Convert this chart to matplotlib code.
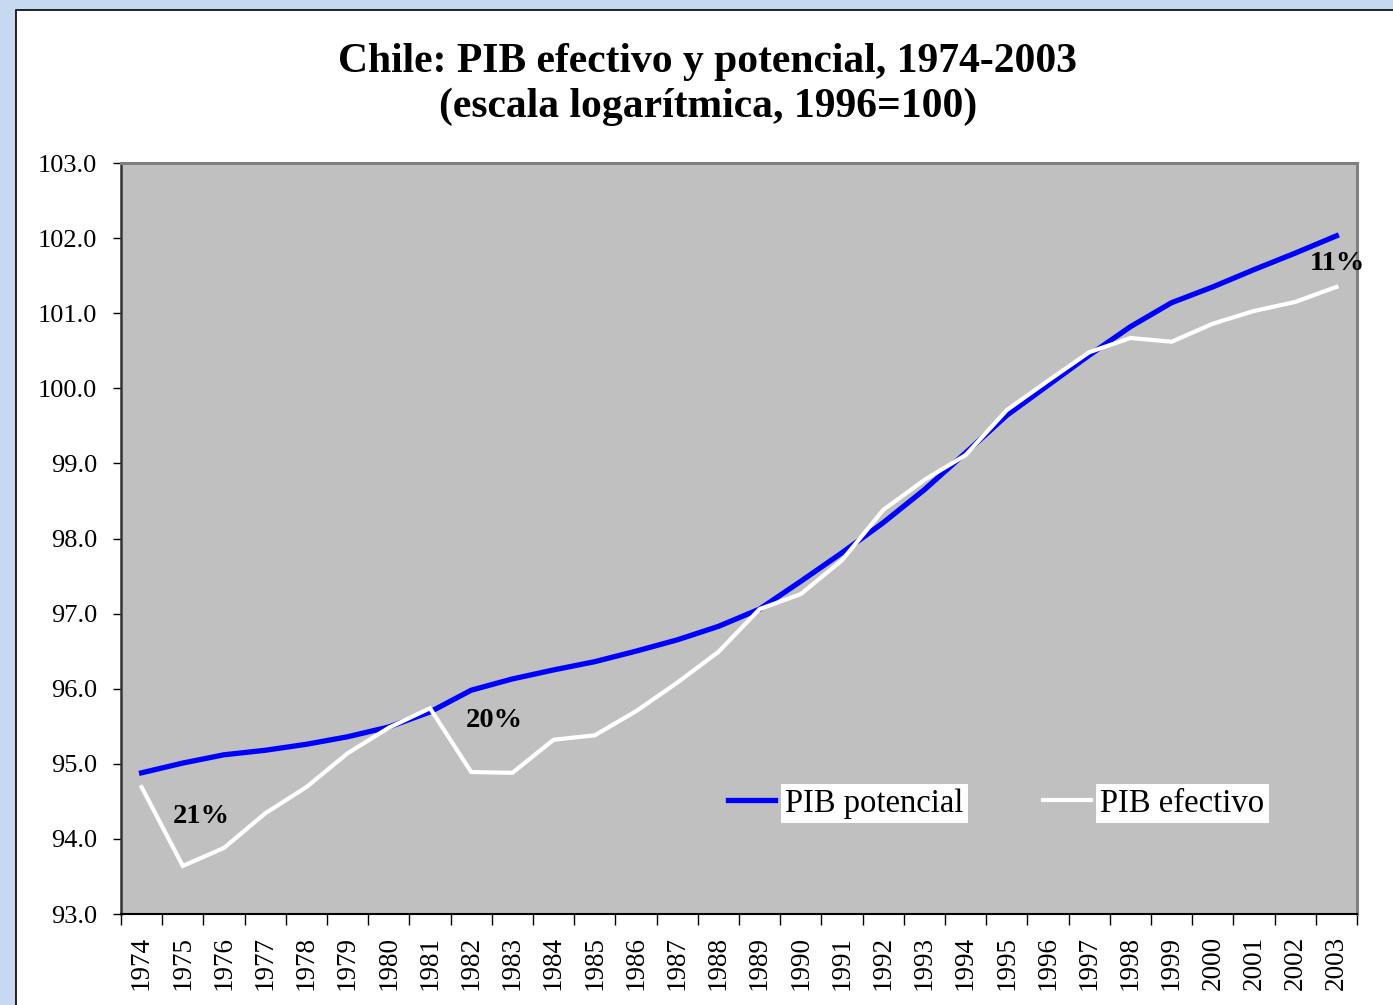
import numpy as np
import matplotlib
matplotlib.use("Agg")
import matplotlib.pyplot as plt
from matplotlib.patches import Rectangle
from matplotlib.ticker import FixedLocator, FormatStrFormatter

plt.rcParams["font.family"] = ["Liberation Serif", "DejaVu Serif"]

years = [str(y) for y in range(1974, 2004)]

# PIB potencial (escala log, 1996=100)
pib_potencial = [
    94.88, 95.01, 95.12, 95.18, 95.26, 95.36, 95.49, 95.69, 95.98, 96.13,
    96.25, 96.36, 96.50, 96.65, 96.83, 97.06, 97.43, 97.81, 98.21, 98.65,
    99.14, 99.64, 100.04, 100.44, 100.82, 101.14, 101.35, 101.58, 101.80, 102.03,
]
# PIB efectivo
pib_efectivo = [
    94.69, 93.64, 93.88, 94.34, 94.69, 95.14, 95.48, 95.74, 94.89, 94.88,
    95.32, 95.38, 95.70, 96.08, 96.49, 97.06, 97.26, 97.71, 98.38, 98.78,
    99.11, 99.71, 100.10, 100.48, 100.67, 100.62, 100.86, 101.03, 101.15, 101.35,
]

# brecha labels: (text, x index, y)
gap_labels = [("21%", 1.44, 94.30), ("20%", 8.55, 95.58), ("11%", 29.02, 101.66)]

W, H = 1393, 1005
fig = plt.figure(figsize=(W / 100, H / 100), dpi=100)
fig.patch.set_facecolor("#C6D9F1")
fig.add_artist(Rectangle((16 / W, -0.01), 1.0, 1 - 10 / H + 0.01,
                         transform=fig.transFigure, facecolor="white",
                         edgecolor="black", linewidth=1.2, zorder=0))

ax = fig.add_axes([121 / W, 1 - 914 / H, (1357 - 121) / W, (914 - 163) / H])
ax.set_facecolor("#C0C0C0")

x = np.arange(len(years))
ax.plot(x, pib_potencial, color="#0000FF", lw=3.8, label="PIB potencial",
        solid_joinstyle="miter", zorder=3)
ax.plot(x, pib_efectivo, color="white", lw=3.0, label="PIB efectivo",
        solid_joinstyle="miter", zorder=4)

for txt, xi, yi in gap_labels:
    ax.text(xi, yi, txt, ha="center", va="center", fontsize=20.5,
            fontweight="bold", zorder=5)

ax.set_xlim(-0.5, len(years) - 0.5)
ax.set_ylim(93, 103)
ax.set_yticks(np.arange(93, 103.5, 1.0))
ax.yaxis.set_major_formatter(FormatStrFormatter("%.1f"))
ax.set_xticks(x)
ax.set_xticklabels(years, rotation=90)
ax.xaxis.set_minor_locator(FixedLocator(np.arange(-0.5, len(years), 1.0)))
ax.tick_params(axis="x", which="major", length=0, pad=16, labelsize=19.5)
ax.tick_params(axis="x", which="minor", length=8, width=1, direction="out")
ax.tick_params(axis="y", length=6, width=1, direction="out", pad=11, labelsize=19)

for s in ["top", "right"]:
    ax.spines[s].set_color("#808080")
    ax.spines[s].set_linewidth(2.2)
ax.spines["left"].set_color("#333333")
ax.spines["left"].set_linewidth(1.8)
ax.spines["bottom"].set_color("black")
ax.spines["bottom"].set_linewidth(1.5)

leg = ax.legend(loc="center left", bbox_to_anchor=(0.491, 0.147), ncol=2,
                frameon=False, fontsize=23.5, handlelength=1.45,
                handletextpad=0.3, columnspacing=2.45, borderpad=0,
                borderaxespad=0)
for t in leg.get_texts():
    t.set_bbox(dict(facecolor="white", edgecolor="none", pad=3))

fig.text(708 / W, 1 - 62 / H, "Chile: PIB efectivo y potencial, 1974-2003",
         ha="center", va="center", fontsize=30, fontweight="bold")
fig.text(708 / W, 1 - 107 / H, "(escala logarítmica, 1996=100)",
         ha="center", va="center", fontsize=30, fontweight="bold")

fig.savefig("out.png", dpi=100, facecolor=fig.get_facecolor())
